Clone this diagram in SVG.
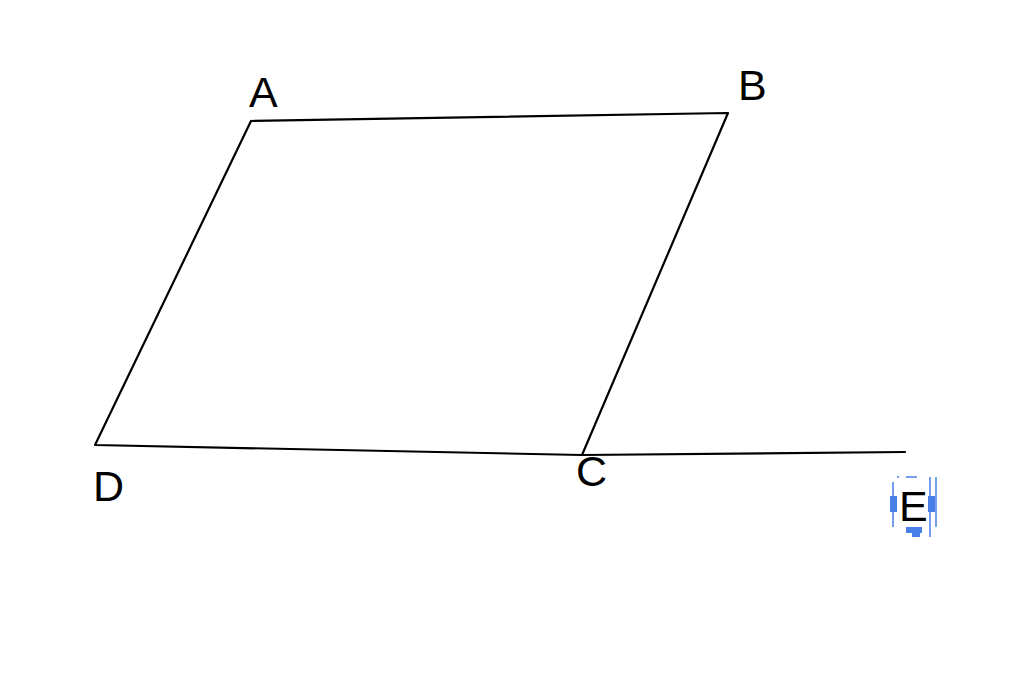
<svg xmlns="http://www.w3.org/2000/svg" width="1024" height="685" viewBox="0 0 1024 685">
<style>
.ln{stroke:#000;stroke-width:2.2;fill:none;stroke-linecap:round;stroke-linejoin:round}
.lb{font-family:"Liberation Sans",Arial,sans-serif;font-size:43px;fill:#000}
.sel{stroke:#4a7fe8;stroke-width:1.5;fill:none}
.hd{fill:#4a7fe8}
</style>
<rect width="1024" height="685" fill="#fff"/>
<g id="connectors">
<polyline class="ln" points="251,121 728,113 582,455 95,445 251,121"/>
<line class="ln" x1="582" y1="455" x2="905" y2="452"/>
</g>
<g id="A"><text class="lb" x="249" y="107">A</text></g>
<g id="B"><text class="lb" x="738" y="100">B</text></g>
<g id="C"><text class="lb" x="576" y="486">C</text></g>
<g id="D"><text class="lb" x="93" y="501">D</text></g>
<g id="E">
<path class="sel" d="M897,477 h2 M906,477 h11 M893,482 v45 M930,477 v60 M936,477 v50"/>
<rect class="hd" x="890" y="496" width="7" height="16"/>
<rect class="hd" x="928" y="496" width="7" height="16"/>
<rect class="hd" x="906" y="527" width="16" height="6"/>
<rect class="hd" x="912" y="532" width="8" height="5"/>
<text class="lb" x="899" y="521">E</text>
</g>
</svg>
